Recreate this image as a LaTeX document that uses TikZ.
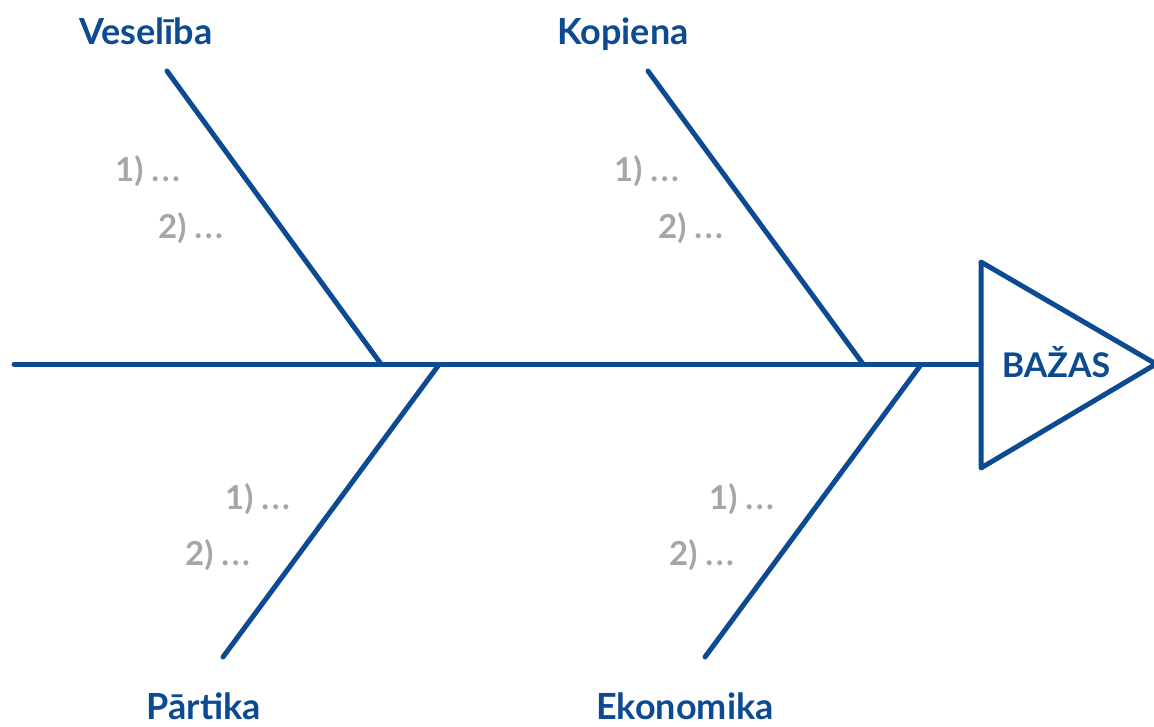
\documentclass[tikz,border=0pt]{standalone}
\usepackage{fontspec}
\setmainfont{Lato}
\definecolor{fishblue}{RGB}{12,74,145}
\definecolor{itemgray}{RGB}{166,166,166}
\newcommand{\dotsx}{.\kern2.5pt.\kern2.5pt.}
\begin{document}
\begin{tikzpicture}[x=1pt,y=-1pt,
  bone/.style={draw=fishblue,line width=5pt,line cap=round,line join=round},
  cat/.style={text=fishblue,font=\bfseries\fontsize{36}{42}\selectfont,inner sep=0pt,anchor=base},
  item/.style={text=itemgray,font=\bfseries\fontsize{33}{38}\selectfont,inner sep=0pt,anchor=base west},
  head/.style={text=fishblue,font=\bfseries\fontsize{34}{40}\selectfont,inner sep=0pt,anchor=base}]
\useasboundingbox (0,0) rectangle (1154,727);
% spine and head
\coordinate (tail) at (14,364);
\coordinate (ht) at (981,262);
\coordinate (hb) at (981,468);
\coordinate (hl) at (981,364);
\coordinate (tip) at (1156,364);
\draw[bone] (tail) -- (hl);
\draw[bone] (ht) -- (tip) -- (hb) -- cycle;
\node[head] (bazas) at (1056,377) {BAŽAS};
% branches
\coordinate (v1) at (167,71);  \coordinate (v2) at (381,364);
\coordinate (k1) at (648,71);  \coordinate (k2) at (863,364);
\coordinate (p1) at (438,366); \coordinate (p2) at (223,657);
\coordinate (e1) at (920,366); \coordinate (e2) at (705,657);
\draw[bone] (v1) -- (v2);
\draw[bone] (k1) -- (k2);
\draw[bone] (p1) -- (p2);
\draw[bone] (e1) -- (e2);
% category labels
\node[cat] (ves) at (146,45) {Veselība};
\node[cat] (kop) at (623,45) {Kopiena};
\node[cat] (par) at (204,719) {Pārtika};
\node[cat] (eko) at (685,719) {Ekonomika};
% items
\node[item] (v1i) at (115,182) {1) \dotsx};
\node[item] (v2i) at (158,239) {2) \dotsx};
\node[item] (k1i) at (614,182) {1) \dotsx};
\node[item] (k2i) at (658,239) {2) \dotsx};
\node[item] (p1i) at (225,509) {1) \dotsx};
\node[item] (p2i) at (185,565) {2) \dotsx};
\node[item] (e1i) at (709,509) {1) \dotsx};
\node[item] (e2i) at (669,565) {2) \dotsx};
\end{tikzpicture}
\end{document}
